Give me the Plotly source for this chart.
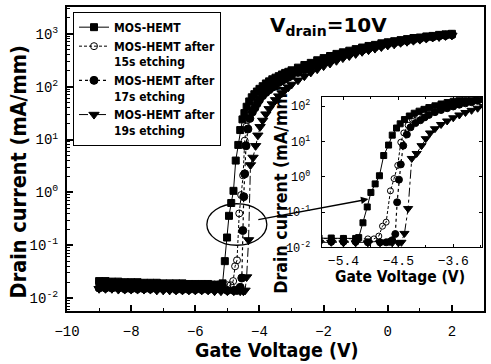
import plotly.graph_objects as go

# ---------------- data (gate voltage in V, drain current in mA/mm) ----------------
V_A = [-9.0, -8.8, -8.6, -8.4, -8.2, -8.0, -7.8, -7.6, -7.4, -7.2, -7.0, -6.8, -6.6, -6.4, -6.2, -6.0, -5.8, -5.6, -5.4, -5.2,
       -5.15, -5.08, -5.01, -4.95, -4.88, -4.81, -4.74, -4.66, -4.6, -4.53,
       -4.47, -4.4, -4.32, -4.24, -4.16, -4.08, -4.0,
       -3.9, -3.8, -3.7, -3.6, -3.5, -3.4, -3.3, -3.2, -3.1, -3.0,
       -2.8, -2.6, -2.4, -2.2, -2.0, -1.8, -1.6, -1.4, -1.2, -1.0, -0.8, -0.6, -0.4, -0.2, 0.0,
       0.2, 0.4, 0.6, 0.8, 1.0, 1.2, 1.4, 1.6, 1.8, 2.0]
I_A = [0.021, 0.021, 0.0205, 0.0205, 0.02, 0.02, 0.02, 0.0195, 0.0195, 0.0195, 0.019, 0.019, 0.019, 0.019, 0.0185, 0.0185, 0.0185, 0.0185, 0.018, 0.018,
       0.019, 0.05, 0.14, 0.36, 0.63, 1.07, 4.0, 7.9, 15.1, 24,
       31.6, 41.7, 52.5, 63, 72, 81, 91,
       102, 115, 126, 138, 148, 158, 170, 182, 191, 204,
       229, 257, 282, 316, 347, 380, 417, 447, 479, 513, 550, 589, 617, 661, 692,
       724, 759, 794, 832, 851, 891, 912, 955, 977, 1000]

V_B = [-9.0, -8.8, -8.6, -8.4, -8.2, -8.0, -7.8, -7.6, -7.4, -7.2, -7.0, -6.8, -6.6, -6.4, -6.2, -6.0, -5.8, -5.6, -5.4, -5.2, -5.0, -4.9, -4.82,
       -4.76, -4.7, -4.63, -4.57, -4.51, -4.46, -4.41, -4.34, -4.27, -4.19, -4.1, -4.0,
       -3.9, -3.8, -3.7, -3.6, -3.5, -3.4, -3.3, -3.2, -3.1, -3.0,
       -2.8, -2.6, -2.4, -2.2, -2.0, -1.8, -1.6, -1.4, -1.2, -1.0, -0.8, -0.6, -0.4, -0.2, 0.0,
       0.2, 0.4, 0.6, 0.8, 1.0, 1.2, 1.4, 1.6, 1.8, 2.0]
I_B = [0.02, 0.02, 0.02, 0.0195, 0.0195, 0.0195, 0.019, 0.019, 0.019, 0.019, 0.0185, 0.0185, 0.0185, 0.0185, 0.018, 0.018, 0.018, 0.018, 0.018, 0.0175, 0.0175, 0.0175, 0.021,
       0.04, 0.052, 0.4, 0.89, 2.1, 9.5, 17.4, 28.8, 41.7, 55, 67.6, 79.4,
       91.2, 102, 112, 123, 135, 145, 155, 166, 178, 191,
       214, 240, 269, 295, 324, 355, 389, 427, 457, 490, 525, 562, 603, 631, 676,
       708, 741, 776, 813, 832, 871, 891, 933, 955, 977]

V_C = [-9.0, -8.8, -8.6, -8.4, -8.2, -8.0, -7.8, -7.6, -7.4, -7.2, -7.0, -6.8, -6.6, -6.4, -6.2, -6.0, -5.8, -5.6, -5.4, -5.2, -5.0, -4.8, -4.7, -4.64,
       -4.6, -4.55, -4.52, -4.49, -4.46, -4.42, -4.36, -4.3, -4.22, -4.14, -4.07, -4.0,
       -3.9, -3.8, -3.7, -3.6, -3.5, -3.4, -3.3, -3.2, -3.1, -3.0,
       -2.8, -2.6, -2.4, -2.2, -2.0, -1.8, -1.6, -1.4, -1.2, -1.0, -0.8, -0.6, -0.4, -0.2, 0.0,
       0.2, 0.4, 0.6, 0.8, 1.0, 1.2, 1.4, 1.6, 1.8, 2.0]
I_C = [0.0155, 0.0155, 0.0155, 0.0155, 0.015, 0.015, 0.015, 0.015, 0.015, 0.015, 0.015, 0.015, 0.0145, 0.0145, 0.0145, 0.0145, 0.0145, 0.0145, 0.0145, 0.0145, 0.014, 0.014, 0.014, 0.0145,
       0.016, 0.024, 0.19, 0.83, 2.24, 7.6, 15.8, 25.1, 33.1, 39.8, 47.9, 56.2,
       67.6, 77.6, 87.1, 97.7, 110, 120, 129, 141, 151, 162,
       186, 209, 234, 263, 288, 316, 347, 380, 417, 457, 490, 525, 562, 603, 646,
       676, 708, 741, 776, 813, 851, 871, 912, 933, 955]

V_D = [-9.0, -8.8, -8.6, -8.4, -8.2, -8.0, -7.8, -7.6, -7.4, -7.2, -7.0, -6.8, -6.6, -6.4, -6.2, -6.0, -5.8, -5.6, -5.4, -5.2, -5.0, -4.8, -4.6, -4.5, -4.45,
       -4.4, -4.34, -4.28, -4.2, -4.12, -4.05, -3.98,
       -3.9, -3.8, -3.7, -3.6, -3.5, -3.4, -3.3, -3.2, -3.1, -3.0,
       -2.8, -2.6, -2.4, -2.2, -2.0, -1.8, -1.6, -1.4, -1.2, -1.0, -0.8, -0.6, -0.4, -0.2, 0.0,
       0.2, 0.4, 0.6, 0.8, 1.0, 1.2, 1.4, 1.6, 1.8, 2.0]
I_D = [0.015, 0.015, 0.015, 0.0145, 0.0145, 0.0145, 0.0145, 0.0145, 0.0145, 0.014, 0.014, 0.014, 0.014, 0.014, 0.014, 0.014, 0.014, 0.014, 0.0135, 0.0135, 0.0135, 0.0135, 0.0135, 0.0135, 0.014,
       0.025, 0.126, 3.3, 4.57, 7.6, 12, 17.4,
       22.9, 30.2, 38, 46.8, 56.2, 66.1, 75.9, 87.1, 97.7, 110,
       132, 158, 186, 214, 245, 275, 309, 347, 380, 417, 457, 490, 525, 562, 603,
       631, 676, 708, 741, 776, 813, 851, 871, 912, 933]

SERIES_NAMES = ["MOS-HEMT", "MOS-HEMT after<br>15s etching", "MOS-HEMT after<br>17s etching", "MOS-HEMT after<br>19s etching"]

Y_TICK_VALUES = [0.01, 0.1, 1, 10, 100, 1000]
Y_TICK_TEXT = ["10<sup>-2</sup>", "10<sup>-1</sup>", "10<sup>0</sup>", "10<sup>1</sup>", "10<sup>2</sup>", "10<sup>3</sup>"]
INSET_Y_TICK_VALUES = [0.01, 0.1, 1, 10, 100]
INSET_Y_TICK_TEXT = ["10<sup>-2</sup>", "10<sup>-1</sup>", "10<sup>0</sup>", "10<sup>1</sup>", "10<sup>2</sup>"]

# ---------------- styles ----------------
styles = [
    dict(symbol="square", size=7, dash="solid", lw=1.0),
    dict(symbol="circle-open", size=7, dash="3px,2px", lw=1.0),
    dict(symbol="circle", size=8, dash="dot", lw=1.2),
    dict(symbol="triangle-down", size=9, dash="dashdot", lw=1.0),
]
datasets = [(V_A, I_A), (V_B, I_B), (V_C, I_C), (V_D, I_D)]

fig = go.Figure()
for (vx, iy), name, st in zip(datasets, SERIES_NAMES, styles):
    assert len(vx) == len(iy)
    fig.add_trace(go.Scatter(
        x=vx, y=iy, name=name, mode="lines+markers",
        line=dict(color="black", width=st["lw"], dash=st["dash"]),
        marker=dict(symbol=st["symbol"], size=st["size"], color="black",
                    line=dict(color="black", width=1)),
        xaxis="x", yaxis="y"))
for (vx, iy), name, st in zip(datasets, SERIES_NAMES, styles):
    fig.add_trace(go.Scatter(
        x=vx, y=iy, name=name, mode="lines+markers", showlegend=False,
        line=dict(color="black", width=st["lw"], dash=st["dash"]),
        marker=dict(symbol=st["symbol"], size=st["size"] - 1, color="black",
                    line=dict(color="black", width=1)),
        xaxis="x2", yaxis="y2"))

TITLE_FONT = "DejaVu Sans Condensed, DejaVu Sans, sans-serif"
TICK_FONT = dict(family="Liberation Mono, monospace", size=14, color="black")

minor_log = [m * 10 ** e for e in range(-3, 4) for m in range(2, 10)]

fig.update_layout(
    width=491, height=364,
    margin=dict(l=67, r=7, t=5, b=53),
    paper_bgcolor="white", plot_bgcolor="white",
    showlegend=True,
    legend=dict(x=0.0144, y=0.984, xanchor="left", yanchor="top",
                bgcolor="white", bordercolor="black", borderwidth=1,
                font=dict(family=TITLE_FONT, size=12, color="black", weight="bold"),
                valign="top", tracegroupgap=0),
    xaxis=dict(domain=[0, 1], range=[-10, 3.0], showline=True, linewidth=2, linecolor="black",
               mirror=True, ticks="inside", ticklen=6, tickwidth=1.5, tickcolor="black",
               dtick=2, tick0=0, showgrid=False, zeroline=False,
               minor=dict(ticks="inside", ticklen=3, tickwidth=1, tickcolor="black", dtick=1, tick0=0, showgrid=False),
               tickfont=TICK_FONT, ticklabelstandoff=6),
    yaxis=dict(domain=[0, 1], type="log", range=[-2.244, 3.507], showline=True, linewidth=2, linecolor="black",
               mirror=True, ticks="inside", ticklen=6, tickwidth=1.5, tickcolor="black",
               tickmode="array", tickvals=Y_TICK_VALUES, ticktext=Y_TICK_TEXT,
               showgrid=False, zeroline=False,
               minor=dict(ticks="inside", ticklen=3, tickwidth=1, tickcolor="black",
                          tickmode="array", tickvals=minor_log, showgrid=False),
               tickfont=TICK_FONT, ticklabelstandoff=4),
    xaxis2=dict(domain=[0.611, 0.995], anchor="y2", range=[-5.755, -3.13], showline=True, linewidth=1,
                linecolor="black", mirror="allticks", ticks="inside", ticklen=3, tickcolor="black",
                dtick=0.9, tick0=-5.4, showgrid=False, zeroline=False,
                minor=dict(ticks="inside", ticklen=2, tickcolor="black", dtick=0.45, tick0=-5.4, showgrid=False),
                tickfont=dict(family="Liberation Mono, monospace", size=13, color="black"),
                ticklabelstandoff=1),
    yaxis2=dict(domain=[0.209, 0.703], anchor="x2", type="log", range=[-2.0, 2.25], showline=True, linewidth=1,
                linecolor="black", mirror="allticks", ticks="inside", ticklen=3, tickcolor="black",
                tickmode="array", tickvals=INSET_Y_TICK_VALUES, ticktext=INSET_Y_TICK_TEXT,
                showgrid=False, zeroline=False,
                tickfont=dict(family="Liberation Mono, monospace", size=12, color="black"),
                ticklabelstandoff=8),
)

annotations = [
    dict(text="Drain current (mA/mm)", xref="paper", yref="paper", x=-0.1163, y=0.4575,
         xanchor="center", yanchor="middle", textangle=-90, showarrow=False,
         font=dict(family=TITLE_FONT, size=21.5, color="black", weight="bold")),
    dict(text="Gate Voltage (V)", xref="paper", yref="paper", x=0.5036, y=-0.1307,
         xanchor="center", yanchor="middle", showarrow=False,
         font=dict(family=TITLE_FONT, size=19.5, color="black", weight="bold")),
    dict(text="Drain current (mA/mm)", xref="paper", yref="paper", x=0.5132, y=0.3987,
         xanchor="center", yanchor="middle", textangle=-90, showarrow=False,
         font=dict(family=TITLE_FONT, size=17.7, color="black", weight="bold")),
    dict(text="Gate Voltage (V)", xref="paper", yref="paper", x=0.7986, y=0.112,
         xanchor="center", yanchor="middle", showarrow=False,
         font=dict(family=TITLE_FONT, size=15.5, color="black", weight="bold")),
    dict(text="V<sub>drain</sub>=10V", xref="paper", yref="paper", x=0.627, y=0.938,
         xanchor="center", yanchor="middle", showarrow=False,
         font=dict(family="DejaVu Sans, sans-serif", size=20, color="black", weight="bold")),
    dict(text="", xref="x2", yref="y2", x=-4.99, y=-0.63, axref="x2", ayref="y2", ax=-6.82, ay=-1.22,
         showarrow=True, arrowhead=2, arrowsize=1, arrowwidth=1.5, arrowcolor="black", standoff=0),
]
fig.update_layout(annotations=annotations)

fig.add_shape(type="circle", xref="x", yref="y", x0=-5.64, x1=-3.77, y0=0.1, y1=0.61,
              line=dict(color="black", width=1.3), fillcolor="rgba(0,0,0,0)")

fig.write_html("out.html", config={"displayModeBar": False},
               post_script="document.body.style.margin='0px';")
